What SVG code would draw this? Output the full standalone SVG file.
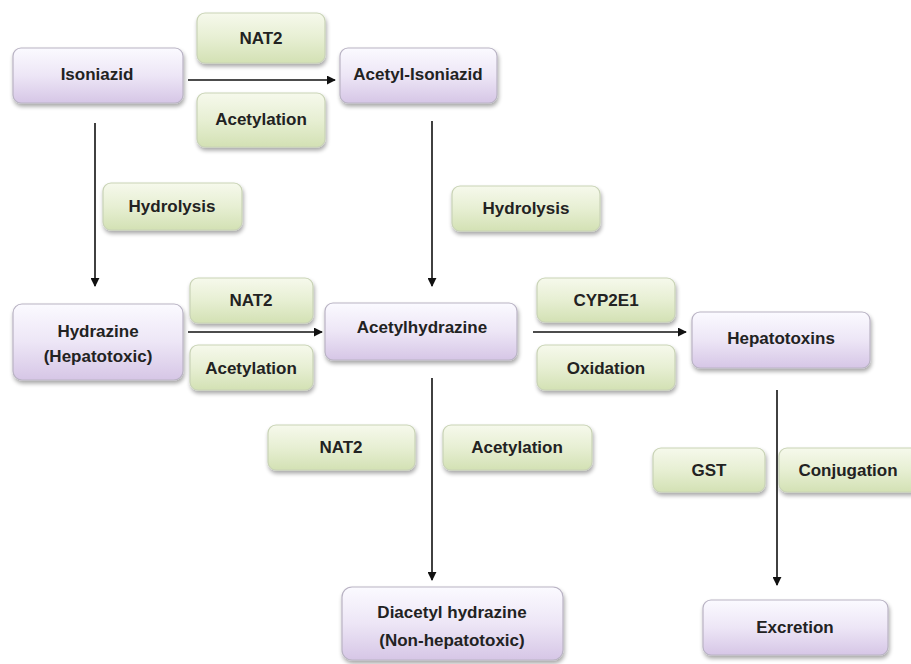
<svg xmlns="http://www.w3.org/2000/svg" width="911" height="664" viewBox="0 0 911 664">
<defs>
<linearGradient id="gp" x1="0" y1="0" x2="0" y2="1">
<stop offset="0" stop-color="#fbfaff"/>
<stop offset="0.5" stop-color="#ede6f6"/>
<stop offset="1" stop-color="#d6c6e6"/>
</linearGradient>
<linearGradient id="gg" x1="0" y1="0" x2="0" y2="1">
<stop offset="0" stop-color="#f6f9ec"/>
<stop offset="0.5" stop-color="#e7efd3"/>
<stop offset="1" stop-color="#d3e1b4"/>
</linearGradient>
<filter id="sh" x="-10%" y="-10%" width="125%" height="140%">
<feGaussianBlur in="SourceAlpha" stdDeviation="2"/>
<feOffset dx="1" dy="3" result="b"/>
<feComponentTransfer><feFuncA type="linear" slope="0.35"/></feComponentTransfer>
<feMerge><feMergeNode/><feMergeNode in="SourceGraphic"/></feMerge>
</filter>
<marker id="ah" viewBox="0 0 10 10" refX="9" refY="5" markerWidth="9" markerHeight="9" markerUnits="userSpaceOnUse" orient="auto">
<path d="M0,0 L10,5 L0,10 z" fill="#111"/>
</marker>
</defs>
<style>
.p{fill:url(#gp);stroke:#b9b3c4;stroke-width:1.2;filter:url(#sh)}
.g{fill:url(#gg);stroke:#c9d3b6;stroke-width:1.2;filter:url(#sh)}
text{font-family:"Liberation Sans",Arial,sans-serif;font-weight:bold;font-size:17px;fill:#222;text-anchor:middle}
.c line{stroke:#111;stroke-width:1.6;marker-end:url(#ah)}
</style>
<rect width="911" height="664" fill="#fff"/>
<g id="isoniazid"><rect class="p" x="13" y="48" width="170" height="55" rx="8"/><text x="97" y="80">Isoniazid</text></g>
<g id="nat2-a"><rect class="g" x="197" y="13" width="128" height="50" rx="8"/><text x="261" y="44">NAT2</text></g>
<g id="acetylation-a"><rect class="g" x="197" y="93" width="128" height="54" rx="8"/><text x="261" y="125">Acetylation</text></g>
<g id="acetyl-isoniazid"><rect class="p" x="340" y="48" width="157" height="55" rx="8"/><text x="418" y="80">Acetyl-Isoniazid</text></g>
<g id="hydrolysis-a"><rect class="g" x="103" y="183" width="139" height="47" rx="8"/><text x="172" y="212">Hydrolysis</text></g>
<g id="hydrolysis-b"><rect class="g" x="452" y="186" width="148" height="45" rx="8"/><text x="526" y="214">Hydrolysis</text></g>
<g id="hydrazine"><rect class="p" x="13" y="304" width="170" height="76" rx="9"/><text x="98" y="337">Hydrazine</text><text x="98" y="362">(Hepatotoxic)</text></g>
<g id="nat2-b"><rect class="g" x="190" y="278" width="123" height="45" rx="8"/><text x="251" y="306">NAT2</text></g>
<g id="acetylation-b"><rect class="g" x="190" y="345" width="123" height="45" rx="8"/><text x="251" y="374">Acetylation</text></g>
<g id="acetylhydrazine"><rect class="p" x="325" y="303" width="192" height="57" rx="8"/><text x="422" y="333">Acetylhydrazine</text></g>
<g id="cyp2e1"><rect class="g" x="537" y="278" width="138" height="44" rx="8"/><text x="606" y="306">CYP2E1</text></g>
<g id="oxidation"><rect class="g" x="537" y="345" width="138" height="45" rx="8"/><text x="606" y="374">Oxidation</text></g>
<g id="hepatotoxins"><rect class="p" x="692" y="312" width="178" height="56" rx="8"/><text x="781" y="344">Hepatotoxins</text></g>
<g id="nat2-c"><rect class="g" x="268" y="425" width="147" height="45" rx="8"/><text x="341" y="453">NAT2</text></g>
<g id="acetylation-c"><rect class="g" x="443" y="425" width="149" height="45" rx="8"/><text x="517" y="453">Acetylation</text></g>
<g id="gst"><rect class="g" x="653" y="448" width="112" height="44" rx="8"/><text x="709" y="476">GST</text></g>
<g id="conjugation"><rect class="g" x="779" y="448" width="140" height="44" rx="8"/><text x="848" y="476">Conjugation</text></g>
<g id="diacetyl-hydrazine"><rect class="p" x="342" y="587" width="221" height="73" rx="10"/><text x="452" y="618">Diacetyl hydrazine</text><text x="452" y="646">(Non-hepatotoxic)</text></g>
<g id="excretion"><rect class="p" x="703" y="600" width="185" height="55" rx="8"/><text x="795" y="633">Excretion</text></g>
<g class="c" id="connectors">
<line x1="188" y1="80" x2="335" y2="80"/>
<line x1="95" y1="123" x2="95" y2="286"/>
<line x1="432" y1="121" x2="432" y2="286"/>
<line x1="188" y1="332" x2="322" y2="332"/>
<line x1="533" y1="332" x2="686" y2="332"/>
<line x1="432" y1="378" x2="432" y2="580"/>
<line x1="777" y1="390" x2="777" y2="585"/>
</g>
</svg>
